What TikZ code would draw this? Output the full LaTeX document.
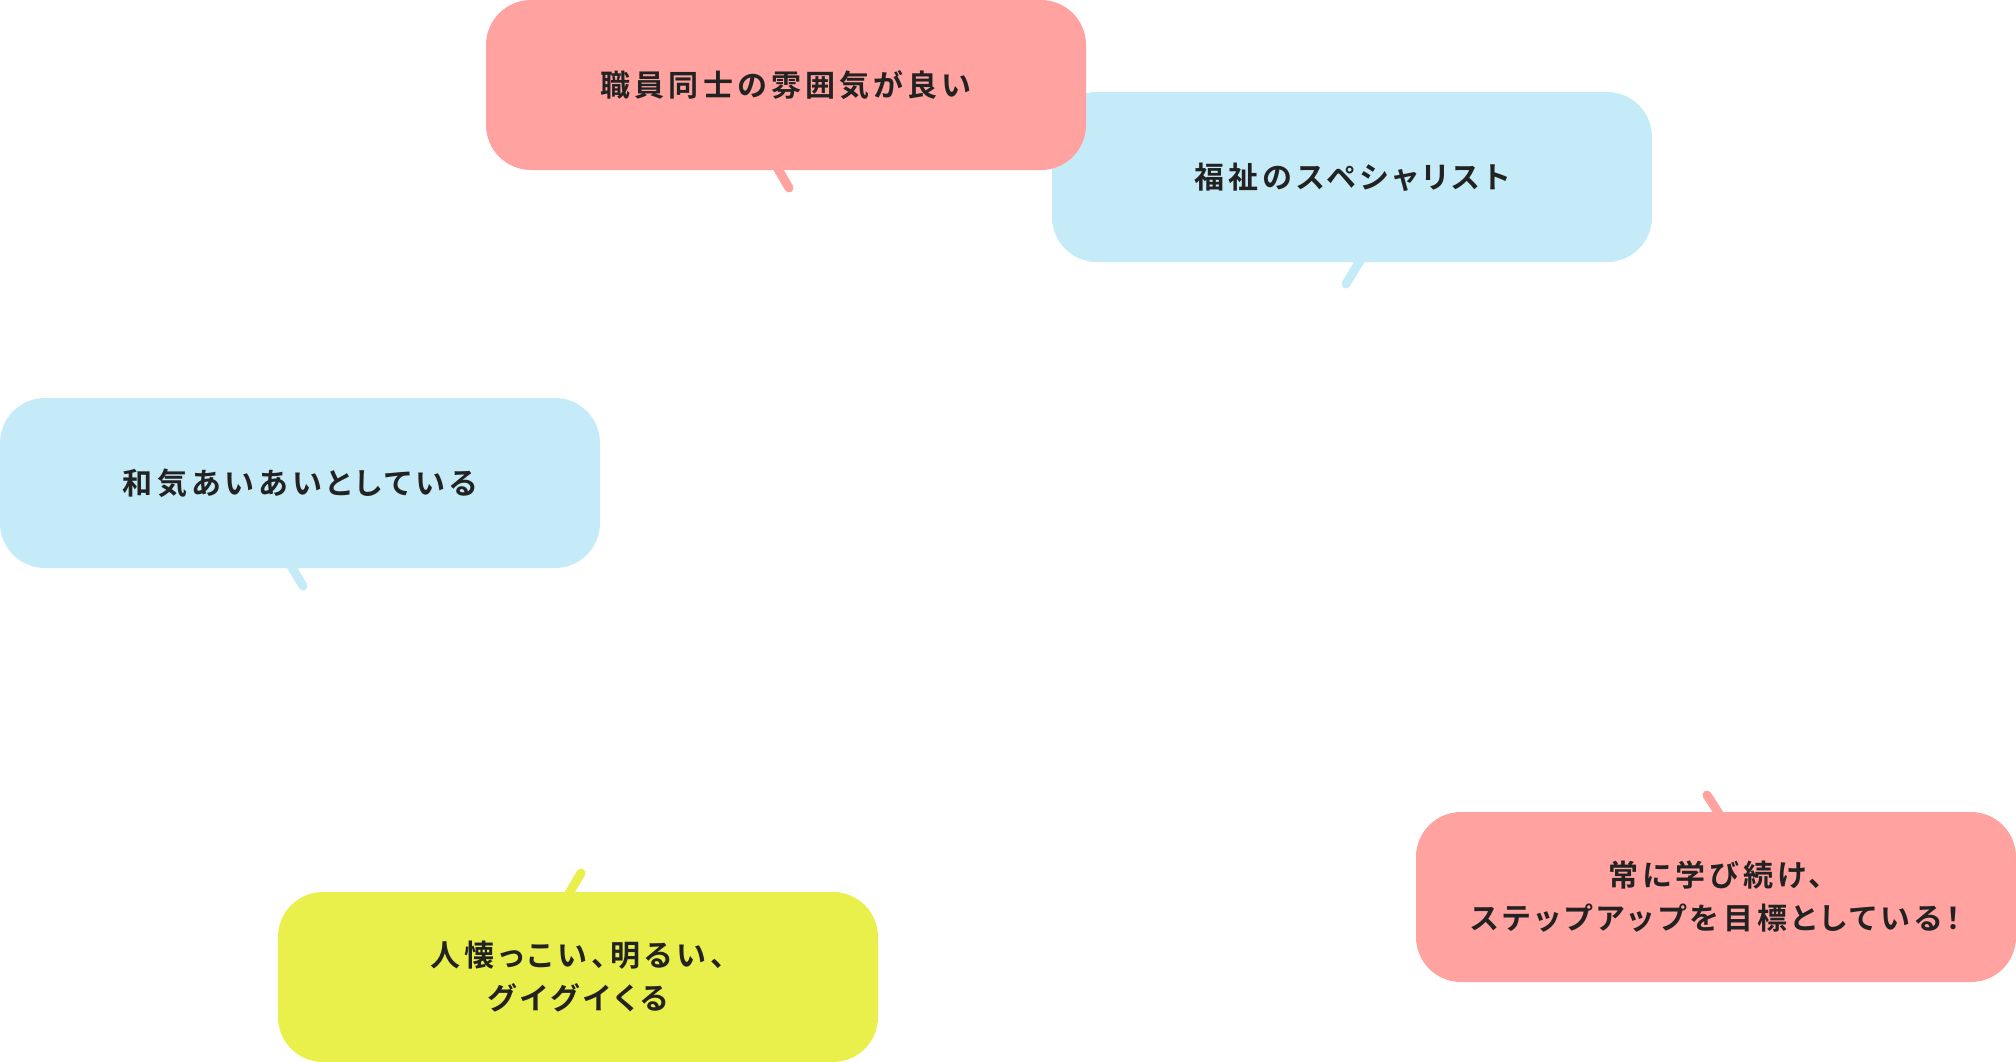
\documentclass[tikz,border=0pt]{standalone}
\usepackage{fontspec}
\newfontfamily\jp[LetterSpace=14,RawFeature=+palt,UprightFont={* Bold}]{Noto Sans CJK JP}
\definecolor{bpink}{RGB}{255,162,160}
\definecolor{bblue}{RGB}{198,235,248}
\definecolor{byellow}{RGB}{234,240,75}
\definecolor{btext}{RGB}{34,34,34}
\tikzset{
  bubble/.style={rectangle, rounded corners=45pt, minimum width=600pt, minimum height=170pt,
    inner sep=0pt, align=center, text=btext,
    font={\jp\fontsize{30}{43}\selectfont}},
  tail/.style={line width=9pt, line cap=round},
}
\begin{document}
\begin{tikzpicture}[x=1pt,y=-1pt]
\useasboundingbox (0,0) rectangle (2016,1062);
% tails
\coordinate (t1a) at (771,157); \coordinate (t1b) at (789,188);
\coordinate (t2a) at (1366,251); \coordinate (t2b) at (1346,284);
\coordinate (t3a) at (285,556); \coordinate (t3b) at (303,586);
\coordinate (t4a) at (564,902); \coordinate (t4b) at (581,873);
\coordinate (t5a) at (1725,823); \coordinate (t5b) at (1707,795);
\draw[tail, bblue] (t2a) -- (t2b);
\node[bubble, fill=bblue] (b2) at (1352,177) {福祉のスペシャリスト};
\draw[tail, bpink] (t1a) -- (t1b);
\node[bubble, fill=bpink] (b1) at (786,85) {職員同士の雰囲気が良い};
\draw[tail, bblue] (t3a) -- (t3b);
\node[bubble, fill=bblue] (b3) at (300,483) {和気あいあいとしている};
\draw[tail, byellow] (t4a) -- (t4b);
\node[bubble, fill=byellow] (b4) at (578,977) {人懐っこい、明るい、\\グイグイくる};
\draw[tail, bpink] (t5a) -- (t5b);
\node[bubble, fill=bpink] (b5) at (1716,897) {常に学び続け、\\ステップアップを目標としている！};
\end{tikzpicture}
\end{document}
